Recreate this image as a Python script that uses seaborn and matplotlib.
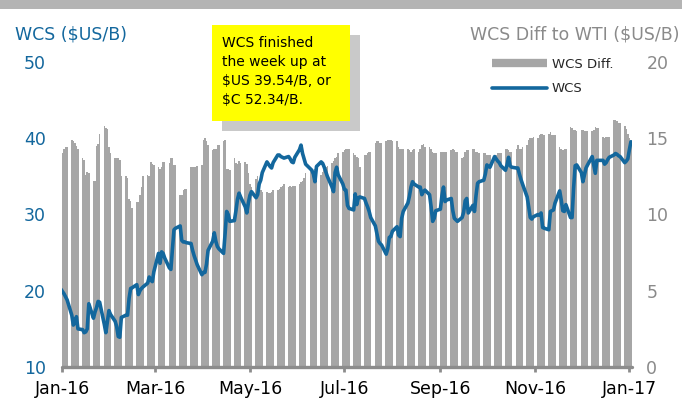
import numpy as np
import pandas as pd
import matplotlib
matplotlib.use("Agg")
import matplotlib.pyplot as plt
import seaborn as sns
from matplotlib.patches import Rectangle
from matplotlib.lines import Line2D

# WCS price ($US/B), one list per trading week (Mon..Fri), starting week of 2016-01-04
wcs_weeks = [
    [20.2, 19.9, 19.6, 19.2, 18.8],
    [16.8, 15.5, 15.8, 16.6, 15.0],
    [14.9, 14.5, 14.6, 15.0, 18.3],
    [16.4, 17.2, 17.8, 18.6, 18.5],
    [15.6, 14.5, 16.0, 17.4, 16.9],
    [16.0, 15.3, 14.0, 13.9, 16.5],
    [16.8, 16.8, 19.0, 20.3, 20.4],
    [20.8, 19.5, 20.0, 20.3, 20.5],
    [21.0, 21.8, 21.4, 21.2, 22.5],
    [24.9, 23.6, 25.1, 24.9, 24.3],
    [23.0, 22.8, 25.5, 28.0, 28.2],
    [28.5, 26.6, 26.4, 26.4, 26.3],
    [26.2, 25.3, 24.6, 24.0, 23.4],
    [22.1, 22.4, 22.4, 23.5, 25.3],
    [26.5, 27.6, 26.5, 25.8, 25.5],
    [24.9, 27.5, 30.4, 30.0, 29.1],
    [29.2, 30.5, 32.0, 32.8, 32.3],
    [31.0, 30.2, 31.5, 32.5, 33.0],
    [32.2, 32.6, 34.0, 34.5, 35.5],
    [36.9, 36.6, 36.3, 36.1, 36.8],
    [37.8, 37.8, 37.6, 37.5, 37.4],
    [37.6, 37.3, 36.9, 36.8, 37.5],
    [38.5, 39.1, 38.0, 37.3, 36.6],
    [36.0, 35.8, 35.3, 34.3, 36.3],
    [36.9, 36.7, 36.2, 35.6, 35.0],
    [33.6, 33.0, 35.5, 36.2, 35.2],
    [34.0, 33.3, 33.2, 31.2, 30.8],
    [30.6, 32.7, 31.3, 32.2, 32.3],
    [32.1, 31.5, 31.0, 30.4, 29.6],
    [28.5, 27.5, 26.5, 26.2, 26.0],
    [24.8, 25.5, 27.0, 27.1, 27.8],
    [28.4, 27.3, 27.1, 29.5, 30.4],
    [31.5, 32.4, 33.6, 34.3, 34.0],
    [33.6, 33.6, 32.6, 33.0, 33.2],
    [32.6, 31.0, 29.1, 29.5, 30.5],
    [30.7, 32.5, 33.6, 31.7, 31.9],
    [32.1, 30.5, 29.5, 29.3, 29.1],
    [29.6, 30.3, 31.8, 32.1, 30.2],
    [31.2, 30.4, 32.5, 34.1, 34.3],
    [34.5, 35.3, 36.5, 36.3, 36.2],
    [37.6, 37.3, 37.0, 36.8, 36.4],
    [35.8, 36.5, 37.5, 36.4, 36.2],
    [36.1, 36.1, 35.3, 34.6, 34.0],
    [32.3, 31.0, 29.6, 29.4, 29.7],
    [30.0, 29.9, 30.2, 28.3, 28.2],
    [28.0, 30.4, 30.5, 30.6, 31.5],
    [33.1, 31.9, 30.5, 30.4, 31.3],
    [29.6, 29.6, 33.5, 36.4, 36.5],
    [35.5, 34.3, 35.2, 36.1, 36.5],
    [37.6, 36.5, 35.4, 37.1, 37.1],
    [37.1, 36.6, 36.8, 37.2, 37.5],
    [37.8, 38.0, 37.9, 37.7, 37.6],
    [36.8, 37.0, 37.3, 38.5, 39.54],
]

# WCS differential to WTI ($US/B), same weeks
diff_weeks = [
    [14.0, 14.0, 14.3, 14.45, 14.45],
    [14.9, 14.8, 14.7, 14.5, 14.3],
    [13.7, 13.6, 12.6, 12.8, 12.7],
    [12.2, 12.2, 14.5, 14.6, 15.3],
    [15.8, 15.7, 15.6, 14.4, 14.0],
    [13.7, 13.7, 13.7, 13.6, 12.5],
    [12.5, 12.4, 11.0, 10.9, 10.4],
    [10.85, 10.85, 11.3, 11.8, 12.5],
    [12.6, 12.5, 13.45, 13.3, 13.25],
    [13.1, 13.0, 13.1, 13.45, 13.45],
    [13.35, 13.7, 13.7, 13.25, 13.25],
    [11.3, 11.3, 11.6, 11.7, 11.7],
    [13.1, 13.1, 13.1, 13.1, 13.2],
    [13.25, 14.9, 15.0, 14.8, 14.55],
    [14.2, 14.3, 14.3, 14.55, 14.55],
    [14.8, 14.9, 13.0, 13.0, 12.9],
    [13.7, 13.4, 13.3, 13.5, 13.4],
    [13.45, 13.3, 12.7, 12.0, 11.8],
    [12.3, 12.5, 11.9, 11.6, 11.5],
    [11.5, 11.4, 11.4, 11.5, 11.6],
    [11.6, 11.7, 11.8, 11.9, 12.0],
    [11.8, 11.9, 11.8, 11.9, 11.9],
    [12.0, 12.1, 12.2, 12.4, 12.7],
    [12.9, 12.8, 12.8, 13.0, 13.0],
    [12.6, 12.8, 12.9, 13.1, 13.2],
    [13.35, 13.5, 13.7, 13.8, 14.0],
    [14.1, 14.2, 14.3, 14.3, 14.3],
    [14.0, 13.9, 13.8, 13.7, 13.1],
    [13.9, 13.9, 14.0, 14.1, 14.1],
    [14.7, 14.8, 14.8, 14.7, 14.7],
    [14.8, 14.9, 14.9, 14.9, 14.8],
    [14.8, 14.45, 14.3, 14.3, 14.3],
    [14.3, 14.2, 14.1, 14.2, 14.3],
    [14.1, 14.3, 14.55, 14.6, 14.45],
    [14.45, 14.3, 14.1, 14.0, 14.0],
    [14.1, 14.1, 14.1, 14.1, 14.1],
    [14.2, 14.3, 14.2, 14.1, 14.1],
    [13.7, 13.8, 14.1, 14.2, 14.2],
    [14.3, 14.3, 14.1, 14.1, 14.0],
    [14.0, 14.0, 13.9, 13.9, 13.9],
    [13.8, 13.9, 14.0, 14.0, 14.0],
    [14.3, 14.3, 14.2, 14.1, 14.1],
    [14.3, 14.55, 14.3, 14.3, 14.4],
    [14.55, 14.9, 15.0, 15.0, 15.1],
    [15.0, 15.2, 15.25, 15.25, 15.2],
    [15.3, 15.4, 15.2, 15.2, 15.2],
    [14.45, 14.3, 14.2, 14.3, 14.3],
    [15.75, 15.65, 15.55, 15.55, 15.5],
    [15.55, 15.55, 15.5, 15.45, 15.45],
    [15.45, 15.55, 15.75, 15.7, 15.7],
    [15.1, 15.0, 15.05, 15.05, 15.1],
    [16.2, 16.2, 16.1, 16.0, 16.0],
    [15.8, 15.6, 15.3, 15.0, 14.5],
]

x_tick_labels = ["Jan-16", "Mar-16", "May-16", "Jul-16", "Sep-16", "Nov-16", "Jan-17"]
left_ticks = [10, 20, 30, 40, 50]
right_ticks = [0, 5, 10, 15, 20]
note_lines = ["WCS finished", "the week up at", "$US 39.54/B, or", "$C 52.34/B."]

BLUE = "#13679d"
BAR_GRAY = "#a6a6a6"
TXT_GRAY = "#8a8a8a"
AXIS_GRAY = "#8c8c8c"

wcs = [v for w in wcs_weeks for v in w]
diff = [v for w in diff_weeks for v in w]
dates = pd.bdate_range("2016-01-04", periods=len(wcs))
df = pd.DataFrame({"date": dates, "wcs": wcs, "diff": diff})

sns.set_theme(style="white")
plt.rcParams["font.family"] = ["DejaVu Sans"]

W, H = 682, 401
fig = plt.figure(figsize=(W / 100, H / 100), dpi=100)
fig.patch.set_facecolor("white")

# bars (right axis) go on the base axes so the line sits on top
ax = fig.add_axes([61.7 / W, 34 / H, 570 / W, 305 / H])
ax.bar(df["date"], df["diff"], width=1.0, color=BAR_GRAY, linewidth=0)
ax.set_ylim(0, 20)
ax.set_yticks(right_ticks)

ax2 = ax.twinx()
sns.lineplot(data=df, x="date", y="wcs", ax=ax2, color=BLUE, linewidth=2.6)
ax2.set_ylim(10, 50)
ax2.set_yticks(left_ticks)
ax2.yaxis.tick_left()
ax2.tick_params(axis="y", length=0, pad=11.5, labelsize=12.5, labelcolor=BLUE)
ax2.set_xlabel("")
ax2.set_ylabel("")

# twinx moves the base ticks to the left, so put them back on the right
ax.yaxis.tick_right()
ax.tick_params(axis="y", left=False, labelleft=False, right=False, labelright=True,
               length=0, pad=10.5, labelsize=12.5, labelcolor=TXT_GRAY)

tick_dates = pd.date_range("2016-01-05", periods=len(x_tick_labels), freq=pd.DateOffset(months=2))
ax.set_xticks(tick_dates)
ax.set_xticklabels(x_tick_labels)
ax.set_xlim(pd.Timestamp("2016-01-04 12:00"), pd.Timestamp("2017-01-06 12:00"))
ax.tick_params(axis="x", direction="out", length=3.5, width=2, color=AXIS_GRAY,
               labelsize=12.5, labelcolor="black", pad=6, bottom=True)
ax.set_xlabel("")
ax.set_ylabel("")

for a in (ax, ax2):
    for s in ("top", "left", "right"):
        a.spines[s].set_visible(False)
ax2.spines["bottom"].set_visible(False)
ax.spines["bottom"].set_color(AXIS_GRAY)
ax.spines["bottom"].set_linewidth(2.4)
ax.spines["bottom"].set_capstyle("round")
ax.grid(False)
ax2.grid(False)

# axis titles
fig.text(15 / W, 1 - 34 / H, "WCS ($US/B)", color=BLUE, fontsize=12.5, ha="left", va="center")
fig.text(680 / W, 1 - 34 / H, "WCS Diff to WTI ($US/B)", color=TXT_GRAY, fontsize=12.5,
         ha="right", va="center")

# grey strip at the top
fig.patches.append(Rectangle((0, 1 - 9 / H), 1, 9 / H, transform=fig.transFigure,
                             facecolor="#b4b4b4", edgecolor="none", zorder=1))

# legend
handles = [Line2D([0], [0], color=BAR_GRAY, lw=6, solid_capstyle="butt"),
           Line2D([0], [0], color=BLUE, lw=2.6)]
fig.legend(handles=handles, labels=["WCS Diff.", "WCS"], loc="upper left",
           bbox_to_anchor=(492 / W, 1 - 58 / H), frameon=False, fontsize=9.5,
           handlelength=4.2, handletextpad=0.35, labelspacing=0.85,
           borderpad=0, borderaxespad=0)

# yellow note with drop shadow
bx0, by0, bw, bh = 212, 25, 138, 96
fig.patches.append(Rectangle(((bx0 + 10) / W, 1 - (by0 + 10 + bh) / H), bw / W, bh / H,
                             transform=fig.transFigure, facecolor="#c9c9c9",
                             edgecolor="none", zorder=4))
fig.patches.append(Rectangle((bx0 / W, 1 - (by0 + bh) / H), bw / W, bh / H,
                             transform=fig.transFigure, facecolor="#ffff00",
                             edgecolor="none", zorder=5))
for i, line in enumerate(note_lines):
    fig.text(222 / W, 1 - (43 + 19 * i) / H, line, fontsize=10, color="black",
             ha="left", va="center", zorder=6)

fig.savefig("out.png", dpi=100)
